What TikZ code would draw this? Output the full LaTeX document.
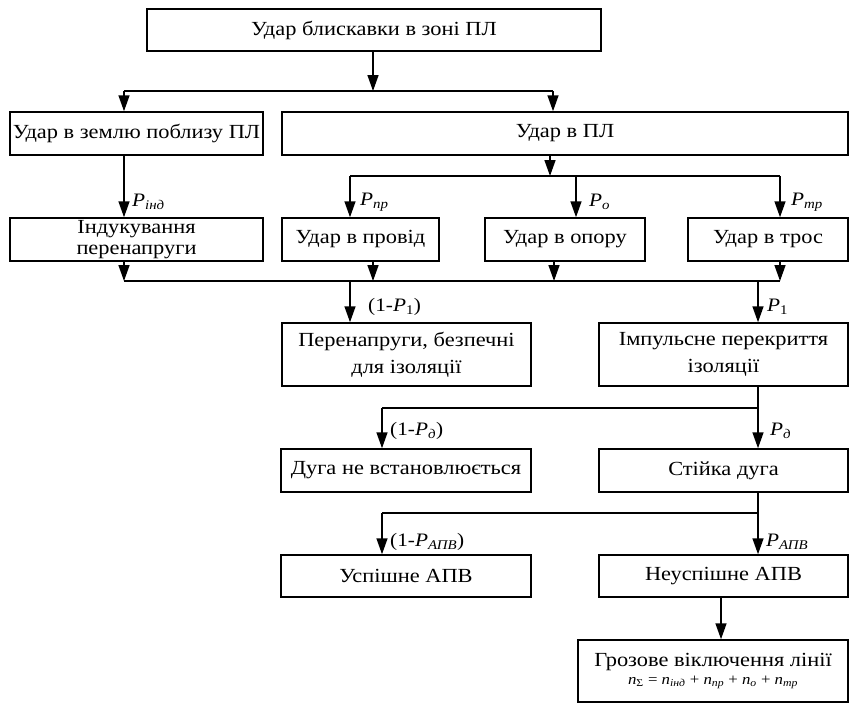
\documentclass[tikz,border=0pt]{standalone}
\usepackage{fontspec}
\setmainfont{Liberation Serif}[FakeStretch=1.12]
\usetikzlibrary{arrows.meta}
\newcommand{\Pl}[1]{\textit{P}\textsubscript{\textit{#1}}}
\newcommand{\nl}[1]{\textit{n}\textsubscript{\textit{#1}}}
\begin{document}
\begin{tikzpicture}[x=1pt,y=-1pt,
  box/.style={draw, line width=1.5pt, inner sep=0pt, align=center,
    font=\fontsize{20}{21}\selectfont},
  arr/.style={line width=1.5pt, -{Triangle[width=11pt,length=16pt]}},
  ln/.style={line width=1.5pt},
  lab/.style={anchor=west, inner sep=0pt, font=\fontsize{19}{22}\selectfont}]
\useasboundingbox (0,0) rectangle (850,704);
% boxes
\node[box, minimum width=454pt, minimum height=42pt] (top) at (374,30) {Удар блискавки в зоні ПЛ};
\node[box, minimum width=253pt, minimum height=43pt] (ground) at (136.5,133.5) {Удар в землю поблизу ПЛ};
\node[box, minimum width=566pt, minimum height=43pt] (vpl) at (565,133.5) {Удар в ПЛ};
\node[box, minimum width=253pt, minimum height=43pt] (ind) at (136.5,239.5) {Індукування\\перенапруги};
\node[box, minimum width=157pt, minimum height=43pt] (prov) at (360.5,239.5) {Удар в провід};
\node[box, minimum width=160pt, minimum height=43pt] (opora) at (565,239.5) {Удар в опору};
\node[box, minimum width=160pt, minimum height=43pt] (tros) at (768,239.5) {Удар в трос};
\node[box, minimum width=249pt, minimum height=63pt, font=\fontsize{20}{27}\selectfont] (safe) at (406.5,354.5) {Перенапруги, безпечні\\для ізоляції};
\node[box, minimum width=249pt, minimum height=63pt, font=\fontsize{20}{27}\selectfont] (imp) at (723.5,354.5) {Імпульсне перекриття\\ізоляції};
\node[box, minimum width=250pt, minimum height=43pt] (noarc) at (406,470.5) {Дуга не встановлюється};
\node[box, minimum width=249pt, minimum height=43pt] (arc) at (723.5,470.5) {Стійка дуга};
\node[box, minimum width=250pt, minimum height=42pt] (ok) at (406,576) {Успішне АПВ};
\node[box, minimum width=249pt, minimum height=42pt] (fail) at (723.5,576) {Неуспішне АПВ};
\node[box, minimum width=270pt, minimum height=62pt, font=\fontsize{20}{20}\selectfont] (groz) at (713,671) {Грозове віключення лінії\\[-2pt]{\fontsize{15}{15}\selectfont\textit{n}\textsubscript{Σ} = \nl{інд} + \nl{пр} + \nl{о} + \nl{тр}}};
% junctions
\coordinate (j1) at (373,91);
\coordinate (j1l) at (124,91);
\coordinate (j1r) at (553,91);
\coordinate (j2) at (550,176);
\coordinate (j2a) at (350,176);
\coordinate (j2b) at (576,176);
\coordinate (j2c) at (780,176);
\coordinate (b1) at (124,281);
\coordinate (b2) at (373,281);
\coordinate (b3) at (554,281);
\coordinate (b4) at (780,281);
\coordinate (s1) at (350,281);
\coordinate (s2) at (758,281);
\coordinate (k1) at (758,408);
\coordinate (k1l) at (382,408);
\coordinate (k2) at (758,513);
\coordinate (k2l) at (382,513);
\coordinate (g1) at (721,600);
% connectors
\draw[arr] (top.south -| j1) -- (j1);
\draw[ln] (j1l) -- (j1r);
\draw[arr] (j1l) -- (j1l |- ground.north);
\draw[arr] (j1r) -- (j1r |- vpl.north);
\draw[arr] (ground.south -| j1l) -- (j1l |- ind.north);
\draw[arr] (vpl.south -| j2) -- (j2);
\draw[ln] (j2a) -- (j2c);
\draw[arr] (j2a) -- (j2a |- prov.north);
\draw[arr] (j2b) -- (j2b |- opora.north);
\draw[arr] (j2c) -- (j2c |- tros.north);
\draw[arr] (ind.south -| b1) -- (b1);
\draw[arr] (prov.south -| b2) -- (b2);
\draw[arr] (opora.south -| b3) -- (b3);
\draw[arr] (tros.south -| b4) -- (b4);
\draw[ln] (b1) -- (b4);
\draw[arr] (s1) -- (s1 |- safe.north);
\draw[arr] (s2) -- (s2 |- imp.north);
\draw[ln] (imp.south -| k1) -- (k1);
\draw[ln] (k1l) -- (k1);
\draw[arr] (k1) -- (k1 |- arc.north);
\draw[arr] (k1l) -- (k1l |- noarc.north);
\draw[ln] (arc.south -| k2) -- (k2);
\draw[ln] (k2l) -- (k2);
\draw[arr] (k2) -- (k2 |- fail.north);
\draw[arr] (k2l) -- (k2l |- ok.north);
\draw[arr] (fail.south -| g1) -- (groz.north -| g1);
% labels
\node[lab] (lind) at (132,202) {\Pl{інд}};
\node[lab] (lpr) at (360,202) {\Pl{пр}};
\node[lab] (lo) at (589,202) {\Pl{о}};
\node[lab] (ltr) at (791,202) {\Pl{тр}};
\node[lab] (l1a) at (368,307) {(1-\textit{P}\textsubscript{1})};
\node[lab] (l1b) at (767,307) {\textit{P}\textsubscript{1}};
\node[lab] (lda) at (390,431) {(1-\Pl{д})};
\node[lab] (ldb) at (770,431) {\Pl{д}};
\node[lab] (laa) at (390,542) {(1-\Pl{АПВ})};
\node[lab] (lapv) at (766,542) {\Pl{АПВ}};
\end{tikzpicture}
\end{document}
